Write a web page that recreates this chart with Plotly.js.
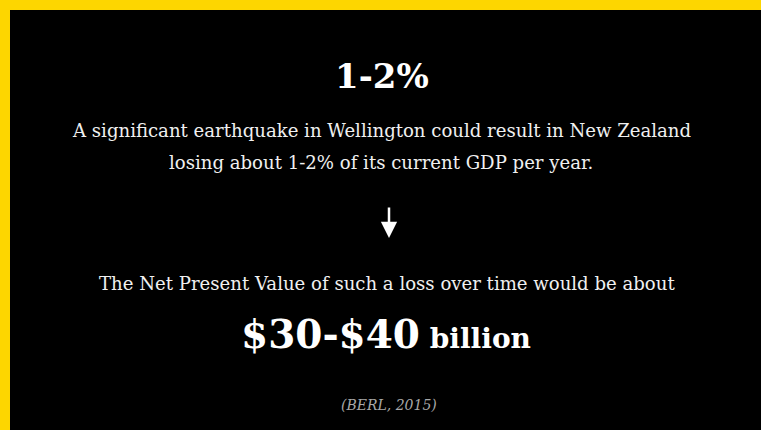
<!DOCTYPE html>
<html>
<head>
<meta charset="utf-8">
<script src="https://cdn.plot.ly/plotly-3.0.1.min.js"></script>
<style>html,body{margin:0;padding:0;background:#000;}#chart{width:761px;height:430px;}</style>
</head>
<body>
<div id="chart"></div>
<script>
// Data
var gdpLossPct = [1, 2];          // % of current GDP lost per year
var npvBillions = [30, 40];       // Net Present Value of loss, $ billion
var sourceName = "BERL";
var sourceYear = 2015;

var W = 761, H = 430;
function py(y){ return 1 - y / H; }
function px(x){ return x / W; }

var pctText = gdpLossPct[0] + "-" + gdpLossPct[1] + "%";
var serif = "DejaVu Serif, serif";

var annotations = [
  {text: "<b>" + pctText + "</b>", x: px(382), y: py(76), font: {family: serif, size: 34, color: "#ffffff"}},
  {text: "A significant earthquake in Wellington could result in New Zealand", x: px(381), y: py(131), font: {family: serif, size: 18.1, color: "#f0f0f0"}},
  {text: "losing about " + pctText + " of its current GDP per year.", x: px(381), y: py(163), font: {family: serif, size: 18.1, color: "#f0f0f0"}},
  {text: "The Net Present Value of such a loss over time would be about", x: px(387), y: py(283), font: {family: serif, size: 18.1, color: "#f0f0f0"}},
  {text: "<b>$" + npvBillions[0] + "-$" + npvBillions[1] + "</b><span style='font-size:28px'><b> billion</b></span>", x: px(386), y: py(334), font: {family: serif, size: 39, color: "#ffffff"}},
  {text: "<i>(" + sourceName + ", " + sourceYear + ")</i>", x: px(389), y: py(405), font: {family: serif, size: 14, color: "#a8a8a8"}},
  {text: "", x: px(389), y: py(238), ax: px(389), ay: py(206), axref: "paper", ayref: "paper", showarrow: true, arrowhead: 2, arrowsize: 1.3, arrowwidth: 2.5, arrowcolor: "#ffffff", standoff: 0}
];
annotations.forEach(function(a){
  a.xref = "paper"; a.yref = "paper";
  if (!a.showarrow) { a.showarrow = false; a.xanchor = "center"; a.yanchor = "middle"; }
});

var layout = {
  width: W, height: H,
  margin: {l: 0, r: 0, t: 0, b: 0},
  paper_bgcolor: "#000000",
  plot_bgcolor: "#000000",
  xaxis: {visible: false, range: [0, 1], fixedrange: true},
  yaxis: {visible: false, range: [0, 1], fixedrange: true},
  showlegend: false,
  shapes: [
    {type: "rect", xref: "paper", yref: "paper", x0: 0, x1: 1, y0: py(10), y1: 1, fillcolor: "#fdd600", line: {width: 0}},
    {type: "rect", xref: "paper", yref: "paper", x0: 0, x1: px(10), y0: 0, y1: 1, fillcolor: "#fdd600", line: {width: 0}}
  ],
  annotations: annotations
};

Plotly.newPlot("chart", [], layout, {staticPlot: true, displayModeBar: false});
</script>
</body>
</html>
